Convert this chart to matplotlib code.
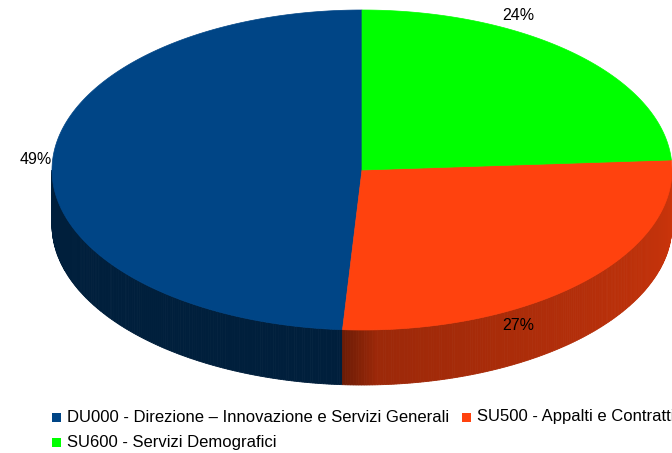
import numpy as np
import matplotlib
matplotlib.use("Agg")
import matplotlib.pyplot as plt
from matplotlib.patches import Polygon, Rectangle
from matplotlib.colors import to_rgb

categories = ["DU000 - Direzione – Innovazione e Servizi Generali",
              "SU500 - Appalti e Contratti",
              "SU600 - Servizi Demografici"]
values = [49, 27, 24]
colors = ["#004586", "#ff420e", "#00ff00"]

plt.rcParams['font.family'] = ['Liberation Sans', 'DejaVu Sans']

W, H = 672, 453
fig = plt.figure(figsize=(W / 100, H / 100), dpi=100)
ax = fig.add_axes([0, 0, 1, 1])
ax.set_xlim(0, W)
ax.set_ylim(H, 0)
ax.axis("off")

cx, cy, rx, ry, depth = 362, 170, 310, 160, 55

def pt(theta_deg, dy=0.0):
    t = np.radians(theta_deg)
    return cx + rx * np.cos(t), cy - ry * np.sin(t) + dy

vals = np.array(values, dtype=float)
angles = 90 + np.concatenate([[0], np.cumsum(vals / vals.sum() * 360)])

def shade(c, f):
    r, g, b = to_rgb(c)
    return (r * f, g * f, b * f)

# side walls (front half of the ellipse)
for i in range(len(values)):
    a0, a1 = angles[i], angles[i + 1]
    for off in (0, 360):
        s0 = max(a0, 180 + off)
        s1 = min(a1, 360 + off)
        if s1 <= s0:
            continue
        n = int(max(4, (s1 - s0) * 2))
        ts = np.linspace(s0, s1, n + 1)
        for k in range(n):
            t0, t1 = ts[k], ts[k + 1]
            tm = 0.5 * (t0 + t1) - off
            if i == 0:
                f = 0.45
            else:
                frac = (tm - (s0 - off)) / max(1e-6, (s1 - s0))
                f = 0.6 + 0.2 * frac
                d = tm - (s0 - off)
                if d < 6:
                    f = 0.42 + (0.6 - 0.42) * d / 6
            x0, y0 = pt(t0)
            x1, y1 = pt(t1)
            poly = [(x0, y0), (x1, y1), (x1, y1 + depth), (x0, y0 + depth)]
            ax.add_patch(Polygon(poly, closed=True, facecolor=shade(colors[i], f),
                                 edgecolor=shade(colors[i], f), linewidth=0.6))

# top face
for i in range(len(values)):
    ts = np.linspace(angles[i], angles[i + 1], 200)
    xs, ys = pt(ts)
    verts = [(cx, cy)] + list(zip(xs, ys))
    ax.add_patch(Polygon(verts, closed=True, facecolor=colors[i],
                         edgecolor=colors[i], linewidth=0.5))

# percent labels
label_pos = [(52, 160, "right"), (518, 325, "center"), (518, 15, "center")]
for v, (lx, ly, ha) in zip(values, label_pos):
    ax.text(lx, ly, f"{v}%", ha=ha, va="center", fontsize=11.5, color="#000000")

# legend
leg_items = [(52, 417), (462, 417), (52, 442)]
for (lx, ly), cat, col in zip(leg_items, categories, colors):
    ax.add_patch(Rectangle((lx, ly - 4.5), 9, 9, facecolor=col, edgecolor="none"))
    ax.text(lx + 15, ly, cat, ha="left", va="center", fontsize=12, color="#000000")

fig.savefig("out.png", dpi=100)
